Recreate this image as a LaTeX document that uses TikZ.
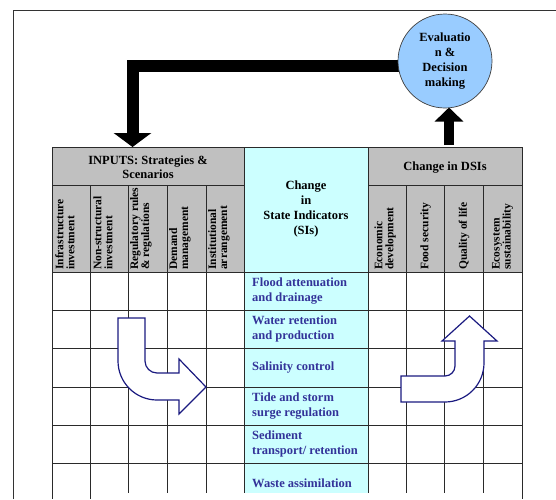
\documentclass[tikz,border=0pt]{standalone}
\usepackage{fontspec}
\setmainfont{Liberation Serif}
\usetikzlibrary{arrows.meta}
\definecolor{hdrgray}{HTML}{C0C0C0}
\definecolor{cyanfill}{HTML}{CCFFFF}
\definecolor{circfill}{HTML}{99CCFF}
\definecolor{rowblue}{HTML}{333399}
\definecolor{arrnavy}{HTML}{1A1A80}
\definecolor{gridline}{HTML}{2A2A2A}
\tikzset{
  hdr/.style={font=\bfseries\fontsize{12.5}{13.5}\selectfont, align=center, inner sep=0pt},
  sihdr/.style={font=\bfseries\fontsize{12.5}{15}\selectfont, align=center, inner sep=0pt},
  colhdr/.style={font=\bfseries\fontsize{11.5}{11}\selectfont, align=left, rotate=90, anchor=west, inner sep=0pt},
  rowlbl/.style={font=\bfseries\fontsize{12.5}{15}\selectfont, text=rowblue, align=left, anchor=west, inner sep=0pt},
  gridln/.style={draw=gridline, line width=0.8pt},
  bigarrow/.style={draw=arrnavy, fill=white, line width=1.2pt, line join=miter},
  fbarrow/.style={line width=12pt, draw=black, -{Triangle[width=37pt,length=14pt]}},
  uparrow/.style={line width=9.5pt, draw=black, -{Triangle[width=28pt,length=14pt]}},
  evalnode/.style={circle, draw=black!75, line width=0.7pt, fill=circfill, minimum size=94pt, inner sep=0pt,
    font=\bfseries\fontsize{12.5}{14.7}\selectfont, align=center}
}
\begin{document}
\begin{tikzpicture}[x=1pt,y=-1pt]
\useasboundingbox (0,0) rectangle (556,499);
% outer frame
\draw[draw=black!80, line width=0.9pt] (13.5,499) -- (13.5,10.5) -- (556,10.5);

% fills
\fill[hdrgray] (52,147) rectangle (244,272);
\fill[hdrgray] (368,147) rectangle (522,272);
\fill[cyanfill] (244,147) rectangle (368,493);

% horizontal lines
\draw[gridln] (52,147) -- (522,147);
\draw[gridln] (52,185) -- (244,185);
\draw[gridln] (368,185) -- (522,185);
\foreach \yy in {272,310,348,387,425,463}
  \draw[gridln] (52,\yy) -- (522,\yy);
% vertical lines
\draw[gridln] (52,147) -- (52,499);
\draw[gridln] (90,185) -- (90,499);
\foreach \xx in {128,167,206,406,444,483}
  \draw[gridln] (\xx,185) -- (\xx,493);
\draw[gridln] (244,147) -- (244,493);
\draw[gridln] (368,147) -- (368,493);
\draw[gridln] (522,147) -- (522,499);

% header texts
\node[hdr] (inputs) at (148,167) {INPUTS: Strategies \&\\Scenarios};
\node[hdr] (dsis) at (445,168) {Change in DSIs};
\node[sihdr] (sis) at (306,209) {Change\\in\\State Indicators\\(SIs)};

% rotated column headers
\node[colhdr] (c1) at (65,270) {Infrastructure\\investment};
\node[colhdr] (c2) at (103,270) {Non-structural\\investment};
\node[colhdr] (c3) at (141,270) {Regulatory rules\\\& regulations};
\node[colhdr] (c4) at (180,270) {Demand\\management};
\node[colhdr] (c5) at (219,270) {Institutional\\arrangement};
\node[colhdr] (d1) at (385,270) {Economic\\development};
\node[colhdr] (d2) at (425.5,270) {Food security};
\node[colhdr] (d3) at (464,270) {Quality of life};
\node[colhdr] (d4) at (502.5,270) {Ecosystem\\sustainability};

% row labels
\node[rowlbl] (r1) at (252,291) {Flood attenuation\\and drainage};
\node[rowlbl] (r2) at (252,329) {Water retention\\and production};
\node[rowlbl] (r3) at (252,368) {Salinity control};
\node[rowlbl] (r4) at (252,406) {Tide and storm\\surge regulation};
\node[rowlbl] (r5) at (252,444) {Sediment\\transport/ retention};
\node[rowlbl] (r6) at (252,483) {Waste assimilation};

% feedback arrows
\coordinate (fbStart) at (405,66);
\coordinate (inTop) at (132.5,147);
\coordinate (dsiTop) at (449,145);
\coordinate (evalBottom) at (449,107.5);
\draw[fbarrow] (fbStart) -| (inTop);
\draw[uparrow] (dsiTop) -- (evalBottom);

% evaluation circle
\node[evalnode] (eval) at (445,61) {Evaluatio\\n \&\\Decision\\making};

% curved block arrow (left)
\draw[bigarrow] (118,318) -- (145,318) -- (145,361)
  .. controls (145,367.6) and (150.4,373) .. (157,373)
  -- (179,373) -- (179,359) -- (206,387) -- (179,414) -- (179,400) -- (157,400)
  .. controls (135.5,400) and (118,382.5) .. (118,361) -- cycle;

% curved block arrow (right)
\draw[bigarrow] (401,376) -- (445,376)
  .. controls (450.5,376) and (455,371.5) .. (455,366)
  -- (455,341) -- (442,341) -- (469.5,316) -- (497,341) -- (484,341) -- (484,363)
  .. controls (484,384.5) and (466.5,402) .. (445,402)
  -- (401,402) -- cycle;
\end{tikzpicture}
\end{document}
